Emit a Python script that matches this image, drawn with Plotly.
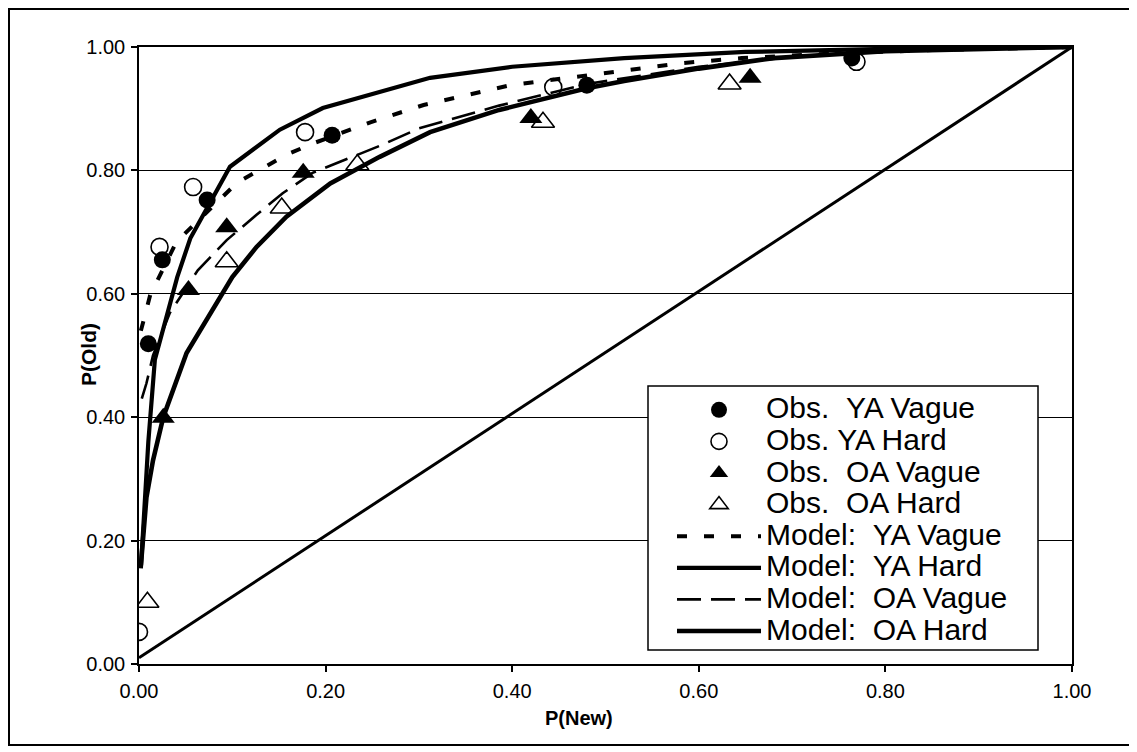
import plotly.graph_objects as go

# ---------------- data ----------------
obs_ya_vague_x = [0.010, 0.025, 0.073, 0.207, 0.480, 0.764]
obs_ya_vague_y = [0.519, 0.655, 0.752, 0.857, 0.938, 0.982]

obs_ya_hard_x = [0.000, 0.022, 0.058, 0.178, 0.444, 0.769]
obs_ya_hard_y = [0.052, 0.676, 0.773, 0.862, 0.935, 0.976]

obs_oa_vague_x = [0.026, 0.053, 0.094, 0.176, 0.420, 0.655]
obs_oa_vague_y = [0.399, 0.606, 0.708, 0.796, 0.885, 0.950]

obs_oa_hard_x = [0.009, 0.094, 0.153, 0.234, 0.433, 0.633]
obs_oa_hard_y = [0.100, 0.652, 0.739, 0.809, 0.878, 0.940]

model_ya_vague_x = [0.002, 0.012, 0.040, 0.105, 0.159, 0.187, 0.248, 0.305, 0.398,
                    0.462, 0.523, 0.583, 0.646, 0.750, 0.850, 1.000]
model_ya_vague_y = [0.540, 0.598, 0.684, 0.780, 0.826, 0.844, 0.878, 0.906, 0.938,
                    0.950, 0.963, 0.974, 0.982, 0.990, 0.995, 1.000]

model_ya_hard_x = [0.002, 0.006, 0.010, 0.017, 0.030, 0.041, 0.055, 0.079, 0.0975,
                   0.151, 0.197, 0.312, 0.400, 0.520, 0.650, 0.800, 1.000]
model_ya_hard_y = [0.155, 0.270, 0.360, 0.493, 0.569, 0.627, 0.690, 0.757, 0.806,
                   0.866, 0.901, 0.950, 0.968, 0.982, 0.992, 0.997, 1.000]

model_oa_vague_x = [0.003, 0.008, 0.015, 0.033, 0.063, 0.094, 0.126, 0.154, 0.186,
                    0.222, 0.260, 0.300, 0.386, 0.480, 0.600, 0.700, 0.800, 1.000]
model_oa_vague_y = [0.430, 0.455, 0.500, 0.569, 0.638, 0.687, 0.728, 0.763, 0.796,
                    0.818, 0.841, 0.868, 0.905, 0.940, 0.968, 0.984, 0.993, 1.000]

model_oa_hard_x = [0.002, 0.008, 0.015, 0.026, 0.051, 0.100, 0.126, 0.158, 0.205,
                   0.258, 0.312, 0.386, 0.480, 0.520, 0.600, 0.680, 0.800, 1.000]
model_oa_hard_y = [0.160, 0.270, 0.330, 0.400, 0.504, 0.627, 0.676, 0.725, 0.779,
                   0.822, 0.862, 0.898, 0.933, 0.945, 0.965, 0.982, 0.993, 1.000]

chance_x = [0.0, 1.0]
chance_y = [0.01, 1.0]

tick_vals = [0.0, 0.2, 0.4, 0.6, 0.8, 1.0]
tick_text = ["0.00", "0.20", "0.40", "0.60", "0.80", "1.00"]

NB = "\u00a0"
legend_labels = ["Obs." + NB + NB + "YA Vague", "Obs. YA Hard",
                 "Obs." + NB + NB + "OA Vague", "Obs." + NB + NB + "OA Hard",
                 "Model:" + NB + NB + "YA Vague", "Model:" + NB + NB + "YA Hard",
                 "Model:" + NB + NB + "OA Vague", "Model:" + NB + NB + "OA Hard"]

FONT = "Arial, 'Liberation Sans', Helvetica, sans-serif"


def lg(text):
    # larger visible legend text while keeping the reference's tight row spacing
    return '<span style="font-size:30px">' + text + '</span>'


fig = go.Figure()

# chance diagonal
fig.add_trace(go.Scatter(x=chance_x, y=chance_y, mode="lines",
                         line=dict(color="black", width=3), showlegend=False,
                         hoverinfo="skip"))

# model curves
fig.add_trace(go.Scatter(x=model_ya_vague_x, y=model_ya_vague_y, mode="lines",
                         name=lg(legend_labels[4]), legendrank=5,
                         line=dict(color="black", width=4, dash="10px,17px")))
fig.add_trace(go.Scatter(x=model_ya_hard_x, y=model_ya_hard_y, mode="lines",
                         name=lg(legend_labels[5]), legendrank=6,
                         line=dict(color="black", width=4.2)))
fig.add_trace(go.Scatter(x=model_oa_vague_x, y=model_oa_vague_y, mode="lines",
                         name=lg(legend_labels[6]), legendrank=7,
                         line=dict(color="black", width=2.6, dash="24px,10px")))
fig.add_trace(go.Scatter(x=model_oa_hard_x, y=model_oa_hard_y, mode="lines",
                         name=lg(legend_labels[7]), legendrank=8,
                         line=dict(color="black", width=4.6)))

# observed points
fig.add_trace(go.Scatter(x=obs_ya_vague_x, y=obs_ya_vague_y, mode="markers",
                         name=lg(legend_labels[0]), legendrank=1,
                         marker=dict(symbol="circle", size=17, color="black")))
fig.add_trace(go.Scatter(x=obs_ya_hard_x, y=obs_ya_hard_y, mode="markers",
                         name=lg(legend_labels[1]), legendrank=2,
                         marker=dict(symbol="circle-open", size=17, color="black",
                                     line=dict(width=1.6, color="black"))))
fig.add_trace(go.Scatter(x=obs_oa_vague_x, y=obs_oa_vague_y, mode="markers",
                         name=lg(legend_labels[2]), legendrank=3,
                         marker=dict(symbol="triangle-up", size=20, color="black")))
fig.add_trace(go.Scatter(x=obs_oa_hard_x, y=obs_oa_hard_y, mode="markers",
                         name=lg(legend_labels[3]), legendrank=4,
                         marker=dict(symbol="triangle-up-open", size=20, color="black",
                                     line=dict(width=1.6, color="black"))))

# page has an 8px body margin; figure sized to fit the window
OFF = 8
W, H = 1137 - OFF, 752 - OFF
L, T = 139 - OFF, 47 - OFF
PW, PH = 933, 617
R, B = W - L - PW, H - T - PH


def sx(px):  # screen x -> paper x
    return (px - OFF - L) / PW


def sy(py):  # screen y -> paper y
    return (T + PH - (py - OFF)) / PH


# outer frame of the figure
fig.add_shape(type="rect", xref="paper", yref="paper",
              x0=sx(OFF + 1), x1=sx(1130), y0=sy(745), y1=sy(OFF + 1),
              line=dict(color="black", width=2), fillcolor="rgba(0,0,0,0)",
              layer="below")

# legend box (white, covers gridlines like the reference)
fig.add_shape(type="rect", xref="paper", yref="paper",
              x0=sx(648), x1=sx(1038), y0=sy(650), y1=sy(386),
              line=dict(color="black", width=1.5), fillcolor="white",
              layer="above")

# axis titles placed where the reference has them
fig.add_annotation(text="<b>P(New)</b>", xref="paper", yref="paper",
                   x=sx(579), y=sy(718), xanchor="center", yanchor="middle",
                   showarrow=False, font=dict(size=20, family=FONT, color="black"))
fig.add_annotation(text="<b>P(Old)</b>", xref="paper", yref="paper",
                   x=sx(88), y=sy(355), xanchor="center", yanchor="middle",
                   textangle=-90, showarrow=False,
                   font=dict(size=21, family=FONT, color="black"))

fig.update_layout(
    width=W, height=H,
    margin=dict(l=L, r=R, t=T, b=B, pad=0),
    paper_bgcolor="white", plot_bgcolor="white",
    font=dict(family=FONT, color="black", size=20),
    xaxis=dict(range=[0, 1], tickvals=tick_vals, ticktext=tick_text,
               showgrid=False, zeroline=False,
               showline=True, linecolor="black", linewidth=1.5, mirror=True,
               ticks="outside", ticklen=6, tickwidth=1.5, tickcolor="black",
               ticklabelstandoff=2,
               tickfont=dict(size=20, family=FONT)),
    yaxis=dict(range=[0, 1], tickvals=tick_vals, ticktext=tick_text,
               showgrid=True, gridcolor="black", gridwidth=1, zeroline=False,
               showline=True, linecolor="black", linewidth=1.5, mirror=True,
               ticks="outside", ticklen=6, tickwidth=1.5, tickcolor="black",
               ticklabelstandoff=2,
               tickfont=dict(size=20, family=FONT)),
    legend=dict(x=sx(672), y=sy(389),
                xanchor="left", yanchor="top",
                bgcolor="rgba(0,0,0,0)", borderwidth=0,
                font=dict(size=22, family=FONT, color="black"),
                itemwidth=84, tracegroupgap=0, traceorder="normal"),
    showlegend=True,
)

fig.write_html("out.html")
